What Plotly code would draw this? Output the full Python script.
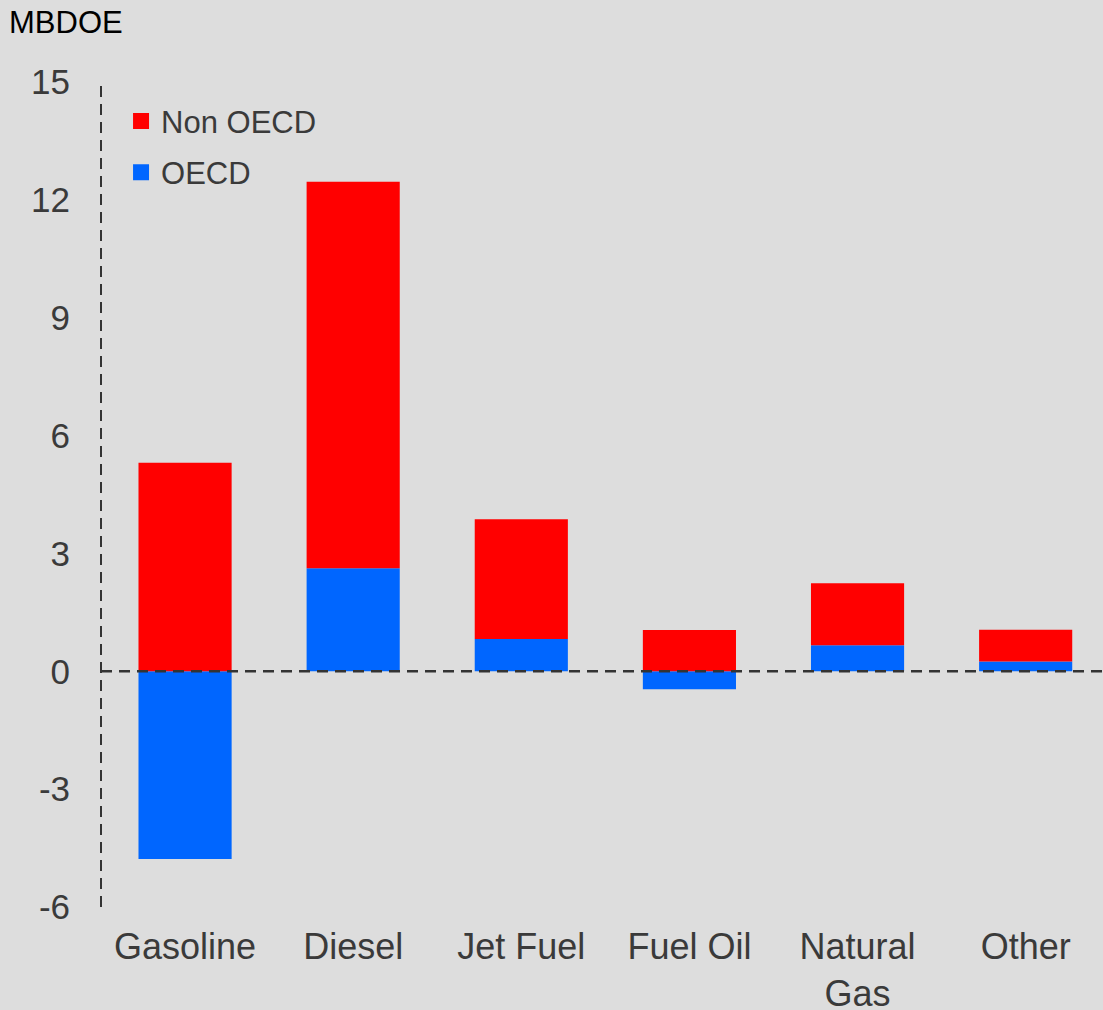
import plotly.graph_objects as go

# Demand growth by fuel type, million barrels per day oil equivalent
categories = ["Gasoline", "Diesel", "Jet Fuel", "Fuel Oil", "Natural<br>Gas", "Other"]
oecd = [-4.78, 2.62, 0.82, -0.46, 0.66, 0.25]
non_oecd = [5.31, 9.84, 3.05, 1.05, 1.58, 0.81]
y_ticks = [-6, -3, 0, 3, 6, 9, 12, 15]

FONT = "Liberation Sans, Arial, sans-serif"
TEXT_GRAY = "#3a3a3a"
BG = "#dddddd"
RED = "#ff0000"
BLUE = "#0066ff"

fig = go.Figure()
fig.add_trace(go.Bar(
    x=categories, y=oecd, name="OECD",
    marker=dict(color=BLUE, line=dict(width=0)),
    legendgroup="oecd", showlegend=False,
))
fig.add_trace(go.Bar(
    x=categories, y=non_oecd, name="Non OECD",
    marker=dict(color=RED, line=dict(width=0)),
    legendgroup="non", showlegend=False,
))

# legend entries with larger square swatches
fig.add_trace(go.Scatter(
    x=[None], y=[None], mode="markers", name="Non OECD", legendgroup="non",
    marker=dict(symbol="square", size=17, color=RED),
))
fig.add_trace(go.Scatter(
    x=[None], y=[None], mode="markers", name="OECD", legendgroup="oecd",
    marker=dict(symbol="square", size=17, color=BLUE),
))

# dashed zero line and dashed vertical axis
fig.add_shape(type="line", xref="paper", yref="y", x0=0, x1=1, y0=0, y1=0,
              line=dict(color="#333333", width=2.5, dash="11px,7px"), layer="above")
fig.add_shape(type="line", xref="paper", yref="y", x0=0, x1=0, y0=-6, y1=15,
              line=dict(color="#333333", width=2, dash="11px,7px"), layer="above")

fig.add_annotation(text="MBDOE", xref="paper", yref="paper", x=-94/1002, y=1 + 59/825,
                   xanchor="left", yanchor="middle", showarrow=False,
                   font=dict(family=FONT, size=31, color="#000000"))

fig.update_layout(
    width=1103, height=1010,
    margin=dict(l=101, r=0, t=82, b=103),
    paper_bgcolor=BG, plot_bgcolor=BG,
    barmode="relative", bargap=0.446,
    font=dict(family=FONT, color=TEXT_GRAY),
    showlegend=True,
    legend=dict(
        x=0.02, y=0.985, xanchor="left", yanchor="top",
        bgcolor="rgba(0,0,0,0)",
        font=dict(family=FONT, size=31, color=TEXT_GRAY),
        traceorder="grouped", tracegroupgap=8,
        itemwidth=30, itemsizing="trace",
    ),
    xaxis=dict(
        range=[-0.5, 5.46], showgrid=False, zeroline=False, showline=False,
        ticks="", tickfont=dict(family=FONT, size=36, color=TEXT_GRAY),
        ticklabelstandoff=15, fixedrange=True, automargin=False,
    ),
    yaxis=dict(
        range=[-6, 15], tickvals=y_ticks, ticktext=[str(v) for v in y_ticks],
        showgrid=False, zeroline=False, showline=False, ticks="",
        tickfont=dict(family=FONT, size=35, color=TEXT_GRAY),
        ticklabelstandoff=30, fixedrange=True, automargin=False,
    ),
)

fig.write_html("out.html")
